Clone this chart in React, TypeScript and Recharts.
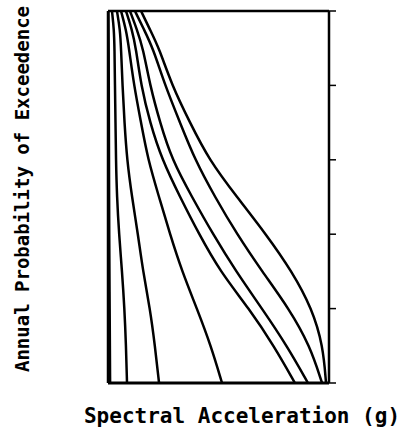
import { LineChart, Line, XAxis, YAxis } from 'recharts'

// log10 of annual probability of exceedence, top (1e-1) to bottom (1e-6)
const logProb = [-1, -1.25, -1.5, -2, -2.5, -3, -3.5, -4, -4.5, -5, -5.5, -6]
const decadeTicks = [-6, -5, -4, -3, -2, -1]

// spectral acceleration (g) of each hazard curve at the levels above
const curveA = [0.004, 0.005, 0.006, 0.007, 0.008, 0.009, 0.01, 0.011, 0.013, 0.015, 0.017, 0.019]
const curveB = [0.036, 0.054, 0.059, 0.063, 0.068, 0.072, 0.081, 0.1, 0.127, 0.149, 0.163, 0.172]
const curveC = [0.081, 0.109, 0.118, 0.131, 0.149, 0.172, 0.217, 0.271, 0.317, 0.38, 0.425, 0.462]
const curveD = [0.118, 0.163, 0.19, 0.235, 0.299, 0.362, 0.462, 0.561, 0.67, 0.805, 0.932, 1.032]
const curveE = [0.163, 0.217, 0.253, 0.299, 0.38, 0.489, 0.652, 0.824, 1.014, 1.276, 1.502, 1.692]
const curveF = [0.199, 0.262, 0.317, 0.38, 0.471, 0.579, 0.76, 0.95, 1.158, 1.394, 1.62, 1.81]
const curveG = [0.244, 0.326, 0.407, 0.516, 0.652, 0.787, 0.968, 1.167, 1.394, 1.638, 1.828, 1.937]
const curveH = [0.299, 0.38, 0.462, 0.579, 0.742, 0.914, 1.167, 1.43, 1.665, 1.846, 1.946, 1.973]

const curves = [curveA, curveB, curveC, curveD, curveE, curveF, curveG, curveH]

const toPoints = (xs: number[]) => xs.map((x, i) => ({ x, y: logProb[i] }))

const labelFont = '"DejaVu Sans Mono", "Liberation Mono", monospace'

export default function App() {
  return (
    <div style={{ position: 'absolute', left: 0, top: 0, width: 408, height: 435, background: '#fff' }}>
      <LineChart width={408} height={435} margin={{ top: 10, right: 78, bottom: 51, left: 107 }}>
        <XAxis
          xAxisId="b"
          type="number"
          dataKey="x"
          domain={[0, 2]}
          height={1}
          tick={false}
          tickLine={false}
          axisLine={{ stroke: '#000', strokeWidth: 3 }}
        />
        <XAxis
          xAxisId="t"
          orientation="top"
          type="number"
          domain={[0, 2]}
          height={1}
          tick={false}
          tickLine={false}
          axisLine={{ stroke: '#000', strokeWidth: 2.5 }}
        />
        <YAxis
          yAxisId="l"
          type="number"
          domain={[-6, -1]}
          width={1}
          tick={false}
          tickLine={false}
          axisLine={{ stroke: '#000', strokeWidth: 2.5 }}
        />
        <YAxis
          yAxisId="r"
          orientation="right"
          type="number"
          domain={[-6, -1]}
          allowDataOverflow
          ticks={decadeTicks}
          interval={0}
          width={1}
          tickFormatter={() => ''}
          tickSize={7}
          tickLine={{ stroke: '#000', strokeWidth: 1.5 }}
          axisLine={{ stroke: '#000', strokeWidth: 2.5 }}
        />
        {curves.map((c, i) => (
          <Line
            key={i}
            xAxisId="b"
            yAxisId={i < 4 ? 'l' : 'r'}
            data={toPoints(c)}
            dataKey="y"
            type="basis"
            stroke="#000"
            strokeWidth={2.5}
            dot={false}
            isAnimationActive={false}
          />
        ))}
      </LineChart>
      <div
        style={{
          position: 'absolute',
          left: 42,
          top: 404,
          width: 400,
          textAlign: 'center',
          fontFamily: labelFont,
          fontWeight: 'bold',
          fontSize: 21,
          lineHeight: '24px',
          color: '#000',
          whiteSpace: 'nowrap',
        }}
      >
        Spectral Acceleration (g)
      </div>
      <div
        style={{
          position: 'absolute',
          left: 22 - 200,
          top: 189 - 12,
          width: 400,
          textAlign: 'center',
          fontFamily: labelFont,
          fontWeight: 'bold',
          fontSize: 19,
          lineHeight: '24px',
          color: '#000',
          whiteSpace: 'nowrap',
          transform: 'rotate(-90deg)',
        }}
      >
        Annual Probability of Exceedence
      </div>
    </div>
  )
}
